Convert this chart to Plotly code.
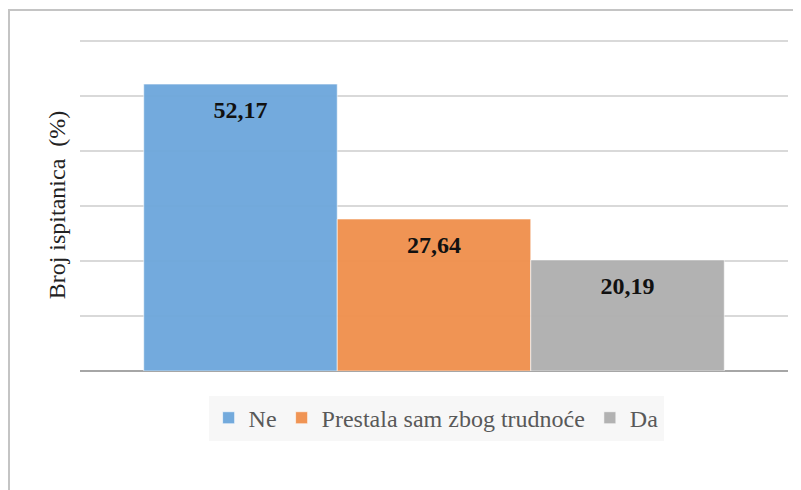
import plotly.graph_objects as go

series = ["Ne", "Prestala sam zbog trudnoće", "Da"]
values = [52.17, 27.64, 20.19]
colors = ["#6fa8dc", "#f0914f", "#b0b0b0"]
category = [""]
y_title = "Broj ispitanica\u00a0\u00a0(%)"
SERIF = "Liberation Serif, Times New Roman, serif"

fig = go.Figure()
for i, (name, v, c) in enumerate(zip(series, values, colors)):
    fig.add_trace(go.Bar(
        x=category, y=[v], name=name, offsetgroup=str(i),
        marker=dict(color=c, line=dict(color="rgba(255,255,255,0.6)", width=1)),
        opacity=0.97,
    ))
for i, v in enumerate(values):
    fig.add_trace(go.Scatter(
        x=category, y=[v], mode="markers+text", offsetgroup=str(i), showlegend=False,
        marker=dict(size=24, opacity=0), hoverinfo="skip",
        texttemplate="<b>%{y:.2f}</b>", textposition="bottom center",
        textfont=dict(family=SERIF, size=24, color="#111111"),
    ))

fig.update_layout(
    width=793, height=482,
    margin=dict(l=72, r=13, t=31, b=119, autoexpand=False),
    paper_bgcolor="white", plot_bgcolor="white",
    separators=",.",
    barmode="group", bargap=0.18, bargroupgap=0,
    scattermode="group", scattergap=0.18,
    showlegend=True,
    legend=dict(orientation="h", x=0.503, xanchor="center", y=-0.142, yanchor="middle",
                bgcolor="#f7f7f7", font=dict(family=SERIF, size=24, color="#595959"),
                traceorder="normal", itemwidth=30, tracegroupgap=0),
    font=dict(family=SERIF),
    yaxis=dict(range=[0, 60.36], dtick=10, showticklabels=False, gridcolor="#d9d9d9", gridwidth=1.5,
               zeroline=True, zerolinecolor="#a6a6a6", zerolinewidth=1.5, automargin=False,
               title=dict(text=y_title, font=dict(family=SERIF, size=24, color="#222222"), standoff=6)),
    xaxis=dict(showticklabels=False, showgrid=False, automargin=False),
    shapes=[dict(type="rect", xref="paper", yref="paper", x0=-71/708, x1=1 + 30/708, y0=-140/332, y1=1 + 29/332,
                 line=dict(color="#c4c4c4", width=2), fillcolor="rgba(0,0,0,0)", layer="below")],
)
fig.write_html("out.html")
